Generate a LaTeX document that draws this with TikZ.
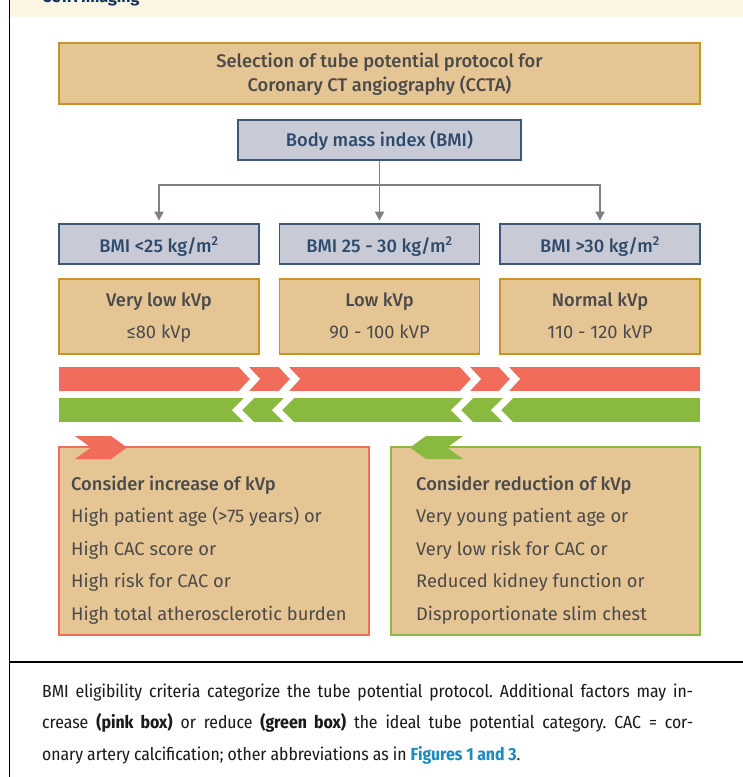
\documentclass[tikz,border=0pt]{standalone}
\usepackage{fontspec}
\usetikzlibrary{arrows.meta}
\IfFontExistsTF{Fira Sans}{\setmainfont{Fira Sans}}{\setmainfont{Liberation Sans}}
\IfFontExistsTF{Fira Sans Medium}{\newfontfamily\medfont{Fira Sans Medium}}{\newfontfamily\medfont[FakeBold=0.4]{Fira Sans}}
\IfFontExistsTF{Fira Sans Condensed}{\newfontfamily\capfont{Fira Sans Condensed}}{\newfontfamily\capfont[FakeStretch=0.84]{Fira Sans}}
\frenchspacing
\definecolor{tanfill}{HTML}{E6C594}
\definecolor{goldline}{HTML}{C99425}
\definecolor{bmifill}{HTML}{C8CAD6}
\definecolor{bminavy}{HTML}{3C5878}
\definecolor{bmitext}{HTML}{2E4A6B}
\definecolor{graytext}{HTML}{4A4A4A}
\definecolor{redc}{HTML}{F26C5B}
\definecolor{greenc}{HTML}{8AB940}
\definecolor{arrowgray}{HTML}{808080}
\definecolor{cream}{HTML}{FDF5E3}
\definecolor{navy}{HTML}{12305E}
\definecolor{linkblue}{HTML}{1F8BBF}
\definecolor{captext}{HTML}{1A1A1A}
\begin{document}
\begin{tikzpicture}[x=1pt,y=-1pt,
 tanbox/.style={draw=goldline, fill=tanfill, line width=1.8pt, inner sep=0pt},
 bluebox/.style={draw=bminavy, fill=bmifill, line width=1.8pt, inner sep=0pt},
 lbl/.style={anchor=base, inner sep=0pt, text=graytext, font=\medfont\fontsize{18.3}{22}\selectfont},
 lblreg/.style={anchor=base, inner sep=0pt, text=graytext, font=\fontsize{18.3}{22}\selectfont},
 bmilbl/.style={anchor=base, inner sep=0pt, text=bmitext, font=\medfont\fontsize{18.3}{22}\selectfont},
 listlbl/.style={anchor=base west, inner sep=0pt, text=graytext, font=\fontsize{18.3}{22}\selectfont},
 listhead/.style={anchor=base west, inner sep=0pt, text=graytext, font=\medfont\fontsize{18.3}{22}\selectfont},
 conn/.style={draw=arrowgray, line width=1.8pt},
 capline/.style={anchor=base west, inner sep=0pt, text=captext, font=\capfont\fontsize{17.5}{21}\selectfont},
]
\useasboundingbox (0,0) rectangle (743,777);
\fill[white] (0,0) rectangle (743,777);
% header band
\fill[cream] (10,0) rectangle (743,17);
\begin{scope}
\clip (10,0) rectangle (743,17);
\node[anchor=base west, inner sep=0pt, text=navy, font=\bfseries\fontsize{16}{18}\selectfont] (hdr) at (42,2) {CCTA Imaging};
\end{scope}
% frame lines
\draw[line width=1.5pt] (9.5,0) -- (9.5,777);
\draw[line width=1.5pt] (9,662) -- (743,662);

% title
\node[tanbox, minimum width=641pt, minimum height=61pt] (title) at (379.5,73.5) {};
\node[lbl] (t1) at (379.5,67.5) {Selection of tube potential protocol for};
\node[lbl] (t2) at (379.5,91.5) {Coronary CT angiography (CCTA)};

% BMI
\node[bluebox, minimum width=283pt, minimum height=40pt] (bmi) at (379.5,140) {};
\node[bmilbl] (bmit) at (379.5,146.5) {Body mass index (BMI)};

\node[bluebox, minimum width=200pt, minimum height=40pt] (b1) at (159,244) {};
\node[bluebox, minimum width=200pt, minimum height=40pt] (b2) at (379.5,244) {};
\node[bluebox, minimum width=200pt, minimum height=40pt] (b3) at (600,244) {};
\node[bmilbl] (b1t) at (159,252) {BMI <25 kg/m\textsuperscript{2}};
\node[bmilbl] (b2t) at (379.5,252) {BMI 25 - 30 kg/m\textsuperscript{2}};
\node[bmilbl] (b3t) at (600,252) {BMI >30 kg/m\textsuperscript{2}};

% connectors
\coordinate (junc) at (379.5,185);
\draw[conn] (bmi.south) -- (junc);
\draw[conn, -{Triangle[length=9pt,width=9pt]}, shorten >=2.5pt] (junc) -| (b1.north);
\draw[conn, -{Triangle[length=9pt,width=9pt]}, shorten >=2.5pt] (junc) -- (b2.north);
\draw[conn, -{Triangle[length=9pt,width=9pt]}, shorten >=2.5pt] (junc) -| (b3.north);

% kVp boxes
\node[tanbox, minimum width=200pt, minimum height=75pt] (k1) at (159,316.5) {};
\node[tanbox, minimum width=200pt, minimum height=75pt] (k2) at (379.5,316.5) {};
\node[tanbox, minimum width=200pt, minimum height=75pt] (k3) at (600,316.5) {};
\node[lbl] (k1a) at (159,306.5) {Very low kVp};
\node[lblreg] (k1b) at (159,338.5) {≤80 kVp};
\node[lbl] (k2a) at (379.5,306.5) {Low kVp};
\node[lblreg] (k2b) at (379.5,338.5) {90 - 100 kVP};
\node[lbl] (k3a) at (600,306.5) {Normal kVp};
\node[lblreg] (k3b) at (600,338.5) {110 - 120 kVP};

% bars
\fill[redc] (59,367) rectangle (700,391);
\foreach \a in {238,278,459,498}
  \fill[white] (\a,366) -- ++(10,0) -- ++(12,13) -- ++(-12,13) -- ++(-10,0) -- ++(12,-13) -- cycle;
\fill[greenc] (59,398) rectangle (700,422);
\foreach \a in {245,285,464,504}
  \fill[white] (\a,397) -- ++(10,0) -- ++(-13,13) -- ++(13,13) -- ++(-10,0) -- ++(-13,-13) -- cycle;

% bottom boxes
\node[fill=tanfill, draw=redc, line width=1.8pt, inner sep=0pt, minimum width=310pt, minimum height=188pt] (inc) at (214,541) {};
\node[fill=tanfill, draw=greenc, line width=1.8pt, inner sep=0pt, minimum width=309pt, minimum height=188pt] (red) at (545.5,541) {};
\fill[redc] (75,436) -- (111,436) -- (127,447.5) -- (111,459) -- (75,459) -- (91,447.5) -- cycle;
\fill[greenc] (463,436) -- (426,436) -- (410,447.5) -- (426,459) -- (463,459) -- (447,447.5) -- cycle;

\node[listhead] (i0) at (71,490) {Consider increase of kVp};
\node[listlbl] (i1) at (71,522.5) {High patient age (>75 years) or};
\node[listlbl] (i2) at (71,555) {High CAC score or};
\node[listlbl] (i3) at (71,587.5) {High risk for CAC or};
\node[listlbl] (i4) at (71,620) {High total atherosclerotic burden};

\node[listhead] (r0) at (416,490) {Consider reduction of kVp};
\node[listlbl] (r1) at (416,522.5) {Very young patient age or};
\node[listlbl] (r2) at (416,555) {Very low risk for CAC or};
\node[listlbl] (r3) at (416,587.5) {Reduced kidney function or};
\node[listlbl] (r4) at (416,620) {Disproportionate slim chest};

% caption
\node[capline] (c1) at (42,697) {\hbox to 651pt{BMI eligibility criteria categorize the tube potential protocol. Additional factors may in-}};
\node[capline] (c2) at (42,728.5) {\hbox to 651pt{crease \textbf{(pink box)} or reduce \textbf{(green box)} the ideal tube potential category. CAC = cor-}};
\node[capline] (c3) at (42,760) {onary artery calcification; other abbreviations as in \textcolor{linkblue}{\textbf{Figures 1 and 3}}.};
\end{tikzpicture}
\end{document}
